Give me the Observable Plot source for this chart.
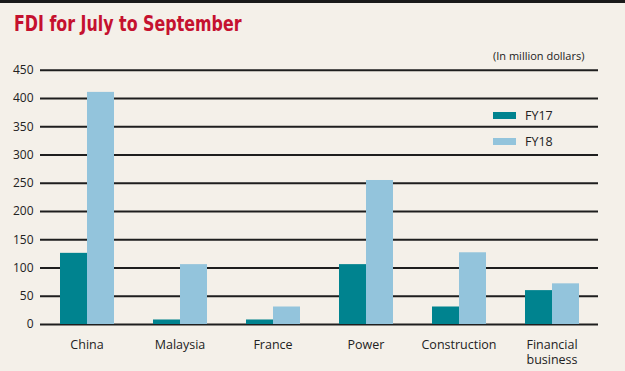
<!DOCTYPE html>
<html>
<head>
<meta charset="utf-8">
<script src="https://cdn.jsdelivr.net/npm/d3@7"></script>
<script src="https://cdn.jsdelivr.net/npm/@observablehq/plot@0.6"></script>
<style>
  html, body { margin: 0; padding: 0; background: #f4f0e9; }
  #wrap { position: relative; width: 625px; height: 371px; overflow: hidden; background: #f4f0e9; border-top: 3px solid #1a1a1a; box-sizing: border-box; font-family: "Open Sans", "Noto Sans", sans-serif; }
  #title { position: absolute; left: 14px; top: 9px; font-family: "Liberation Sans Narrow", "DejaVu Sans Condensed", sans-serif; font-weight: bold; font-size: 21px; color: #c5112f; transform: scaleX(0.84); transform-origin: left center; white-space: nowrap; }
  #unit { position: absolute; left: 493px; top: 45px; font-size: 11px; color: #222; }
  .leg { position: absolute; left: 493px; font-size: 12.5px; color: #222; display: flex; align-items: center; }
  .sw { width: 23px; height: 7px; margin-right: 9px; }
  #chart { position: absolute; left: 0; top: 42px; }
</style>
</head>
<body>
<div id="wrap">
  <div id="title">FDI for July to September</div>
  <div id="unit">(In million dollars)</div>
  <div class="leg" style="top:104px"><div class="sw" style="background:#00838f"></div>FY17</div>
  <div class="leg" style="top:130px"><div class="sw" style="background:#93c4dc"></div>FY18</div>
  <div id="chart"></div>
</div>
<script>
const categories = ["China", "Malaysia", "France", "Power", "Construction", "Financial\nbusiness"];
const series = ["FY17", "FY18"];
const fy17 = [126, 8, 8, 106, 31, 60];
const fy18 = [411, 106, 31, 255, 127, 72];
const yTicks = [0, 50, 100, 150, 200, 250, 300, 350, 400, 450];
const colors = ["#00838f", "#93c4dc"];

const data = [];
categories.forEach((c, i) => {
  data.push({cat: c, series: "FY17", value: fy17[i]});
  data.push({cat: c, series: "FY18", value: fy18[i]});
});

const chart = Plot.plot({
  width: 625,
  height: 326,
  marginTop: 13,
  marginBottom: 47,
  marginLeft: 38,
  marginRight: 25,
  style: {background: "transparent", fontFamily: "'Open Sans', 'Noto Sans', sans-serif", fontSize: "12px", color: "#222"},
  fx: {domain: categories, padding: 0, label: null, axis: null},
  x: {domain: series, paddingInner: 0, paddingOuter: 0.703, axis: null},
  y: {domain: [0, 471], axis: null},
  color: {domain: series, range: colors},
  marks: [
    Plot.ruleY(yTicks, {stroke: "#1e1e1e", strokeWidth: 2}),
    Plot.barY(data, {fx: "cat", x: "series", y: "value", fill: "series", inset: 0}),
    Plot.axisFx({anchor: "bottom", tickSize: 0, tickPadding: 13, label: null, fontSize: 12.5, lineHeight: 1.25, fill: "#222"}),
    Plot.axisY(yTicks, {anchor: "left", tickSize: 0, tickPadding: 7, label: null, fontSize: 12, fill: "#222"}),
    Plot.ruleX([0], {frameAnchor: "left", stroke: "#777", strokeWidth: 1, y1: 0, y2: 471})
  ]
});
document.getElementById("chart").appendChild(chart);
</script>
</body>
</html>
